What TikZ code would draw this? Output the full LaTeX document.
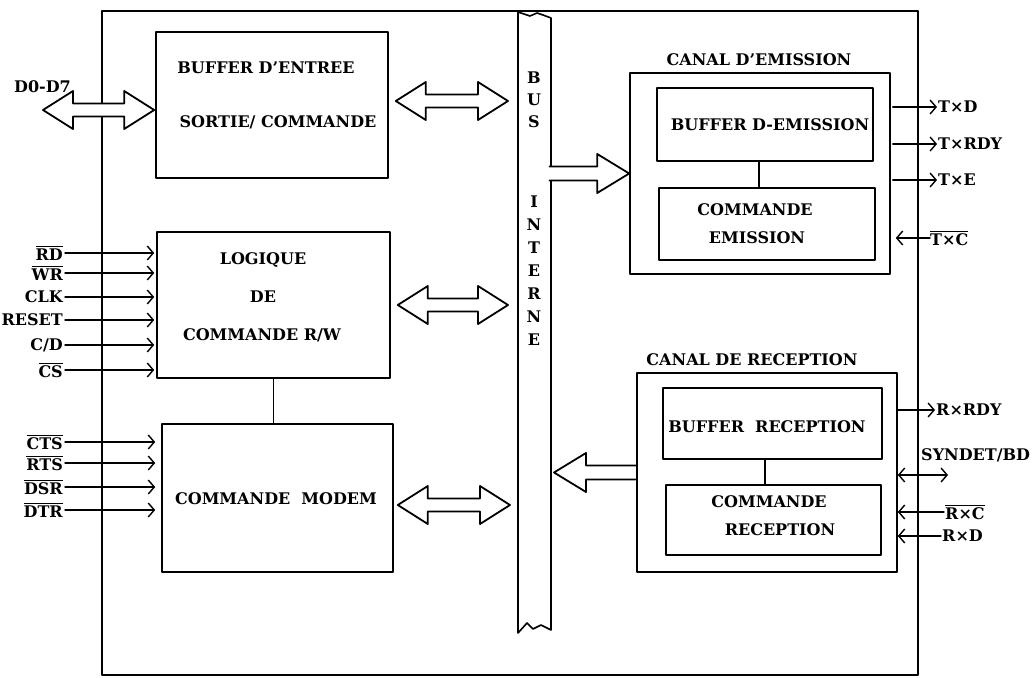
\documentclass[tikz,border=0pt]{standalone}
\usepackage{fontspec}
\setmainfont{DejaVu Serif}
\usetikzlibrary{arrows.meta,calc}

\newsavebox\ovlbox
\newcommand{\ovl}[1]{\sbox\ovlbox{#1}\rlap{\rule[\dimexpr\ht\ovlbox+1.5pt\relax]{\wd\ovlbox}{1.1pt}}\usebox\ovlbox}

% block arrow with two heads, from #1 to #2
\newcommand{\dblarrow}[2]{%
  \coordinate (hbA) at ($(#1)!30pt!(#2)$);
  \coordinate (hbB) at ($(#2)!30pt!(#1)$);
  \draw[blockarr] (#1) -- ($(hbA)!19pt!90:(#2)$) -- ($(hbA)!6.5pt!90:(#2)$)
    -- ($(hbB)!6.5pt!90:(#2)$) -- ($(hbB)!19pt!90:(#2)$) -- (#2)
    -- ($(hbB)!19pt!-90:(#2)$) -- ($(hbB)!6.5pt!-90:(#2)$)
    -- ($(hbA)!6.5pt!-90:(#2)$) -- ($(hbA)!19pt!-90:(#2)$) -- cycle;
}
% block arrow with one head and an open tail, tail #1, tip #2
\newcommand{\sglarrow}[2]{%
  \coordinate (hbC) at ($(#2)!32pt!(#1)$);
  \path[blockarr] ($(#1)!7pt!90:(#2)$) -- ($(hbC)!7pt!90:(#2)$)
    -- ($(hbC)!19.5pt!90:(#2)$) -- (#2) -- ($(hbC)!19.5pt!-90:(#2)$)
    -- ($(hbC)!7pt!-90:(#2)$) -- ($(#1)!7pt!-90:(#2)$);
}

\begin{document}
\begin{tikzpicture}[x=1pt,y=-1pt,line cap=round,line join=round]
  % ----- styles -----
  \tikzset{
    box/.style={draw=black,line width=1.6pt,inner sep=0pt},
    txt/.style={inner sep=0pt,font=\fontsize{16}{18}\selectfont\bfseries},
    sig/.style={line width=1.4pt,-{Straight Barb[length=6pt,width=14pt]}},
    sigboth/.style={line width=1.4pt,{Straight Barb[length=6pt,width=14pt]}-{Straight Barb[length=6pt,width=14pt]}},
    blockarr/.style={draw=black,fill=white,line width=1.8pt},
    link/.style={line width=1.6pt}
  }
  \useasboundingbox (0,0) rectangle (1035,677);

  % ----- outer frame -----
  \draw[box] (102,11) rectangle (918,675);

  % ----- left blocks -----
  \node[box,minimum width=232pt,minimum height=146pt] (bufin) at (272,105) {};
  \node[box,minimum width=233pt,minimum height=146pt] (logic) at (273.5,305) {};
  \node[box,minimum width=231pt,minimum height=148pt] (modem) at (277.5,498) {};
  \draw[link] (logic.south) -- (logic.south |- modem.north);

  \node[txt] (bufin1) at (266,68) {BUFFER D'ENTREE};
  \node[txt] (bufin2) at (278,122) {SORTIE/ COMMANDE};
  \node[txt] (logic1) at (263,260) {LOGIQUE};
  \node[txt] (logic2) at (263,297) {DE};
  \node[txt] (logic3) at (262,335) {COMMANDE R/W};
  \node[txt] (modem1) at (276,499) {COMMANDE\ \ MODEM};

  % ----- internal bus -----
  \draw[box] (518,12) -- (518,633) -- (527,623) -- (533,629) -- (541,625) -- (551,630)
    -- (551,18) -- (543,15) -- (537,13) -- (530,16) -- cycle;
  \foreach \l/\y [count=\i] in {B/78,U/100,S/122,I/202,N/225,T/248,E/271,R/294,N/317,E/340}
    \node[txt] (bus\i) at (534,\y) {\l};
  \coordinate (busW) at (508,0);

  % ----- transmit channel -----
  \node[box,minimum width=260pt,minimum height=201pt] (canalem) at (760,173.5) {};
  \node[box,minimum width=216pt,minimum height=73pt] (bufem) at (765,124.5) {};
  \node[box,minimum width=216pt,minimum height=72pt] (cmdem) at (767,224) {};
  \draw[link] ($(bufem.south)+(-6,0)$) coordinate (lem) -- (lem |- cmdem.north);
  \node[txt] (canalem0) at (759,60) {CANAL D'EMISSION};
  \node[txt] (bufem1) at (770,125) {BUFFER D-EMISSION};
  \node[txt] (cmdem1) at (755,210) {COMMANDE};
  \node[txt] (cmdem2) at (757,238) {EMISSION};

  % ----- receive channel -----
  \node[box,minimum width=260pt,minimum height=199pt] (canalrec) at (767,472.5) {};
  \node[box,minimum width=219pt,minimum height=71pt] (bufrec) at (772.5,423.5) {};
  \node[box,minimum width=215pt,minimum height=70pt] (cmdrec) at (773.5,520) {};
  \draw[link] ($(bufrec.south)+(-7.5,0)$) coordinate (lrec) -- (lrec |- cmdrec.north);
  \node[txt] (canalrec0) at (752,360) {CANAL DE RECEPTION};
  \node[txt] (bufrec1) at (767,427) {BUFFER\ \ RECEPTION};
  \node[txt] (cmdrec1) at (769,502) {COMMANDE};
  \node[txt] (cmdrec2) at (780,530) {RECEPTION};

  % ----- block arrows -----
  \coordinate (d0L) at (43,110);
  \coordinate (d0R) at ($(bufin.west)+(-1,5)$);
  \dblarrow{d0L}{d0R}
  \node[txt,anchor=south west] (d0) at (14,93) {D0-D7};

  \coordinate (bufinL) at ($(bufin.east)+(7,-4)$);
  \coordinate (bufinR) at (bufinL -| busW);
  \dblarrow{bufinL}{bufinR}
  \coordinate (logicL) at ($(logic.east)+(7,0)$);
  \coordinate (logicR) at (logicL -| busW);
  \dblarrow{logicL}{logicR}
  \coordinate (modemL) at ($(modem.east)+(4,7)$);
  \coordinate (modemR) at ($(modemL -| busW)+(2,0)$);
  \dblarrow{modemL}{modemR}

  \coordinate (emT) at (549.5,173.5);
  \sglarrow{emT}{canalem.west}
  \coordinate (recT) at ($(canalrec.west)+(-0.8,0)$);
  \coordinate (recH) at (554,472.5);
  \sglarrow{recT}{recH}

  % ----- left signals -----
  \foreach \nm/\lab/\yy in {rd/\ovl{RD}/253, wr/\ovl{WR}/273, clk/CLK/297,
      reset/RESET/320, cd/{C/D}/345, cs/\ovl{CS}/370}{
    \node[txt,anchor=east] (\nm) at (63,\yy) {\lab};
    \draw[sig,shorten <=2pt,shorten >=2pt] (\nm.east) -- (\nm.east -| logic.west);
  }
  \foreach \nm/\lab/\yy in {cts/\ovl{CTS}/442, rts/\ovl{RTS}/463,
      dsr/\ovl{DSR}/487, dtr/\ovl{DTR}/510}{
    \node[txt,anchor=east] (\nm) at (63,\yy) {\lab};
    \draw[sig,shorten <=2pt,shorten >=6pt] (\nm.east) -- (\nm.east -| modem.west);
  }

  % ----- right signals -----
  \foreach \nm/\lab/\yy in {txd/T×D/107, txrdy/T×RDY/144, txe/T×E/180}{
    \node[txt,anchor=west] (\nm) at (938,\yy) {\lab};
    \draw[sig,shorten <=2pt,shorten >=1pt] (canalem.east |- \nm.west) -- (\nm.west);
  }
  \node[txt,anchor=west] (txc) at (930,238) {\ovl{T×C}};
  \draw[sig,shorten >=5pt] (txc.west) -- (txc.west -| canalem.east);

  \node[txt,anchor=west] (rxrdy) at (936,410) {R×RDY};
  \draw[sig,shorten >=1pt] (canalrec.east |- rxrdy.west) -- (rxrdy.west);
  \node[txt,anchor=west] (syndet) at (921,455) {SYNDET/BD};
  \coordinate (synend) at (948,475);
  \draw[sigboth] (canalrec.east |- synend) -- (synend);
  \node[txt,anchor=west] (rxc) at (945,512) {\ovl{R×C}};
  \draw[sig,shorten <=1pt] (rxc.west) -- (rxc.west -| canalrec.east);
  \node[txt,anchor=west] (rxd) at (942,536) {R×D};
  \draw[sig,shorten <=1pt] (rxd.west) -- (rxd.west -| canalrec.east);
\end{tikzpicture}
\end{document}
